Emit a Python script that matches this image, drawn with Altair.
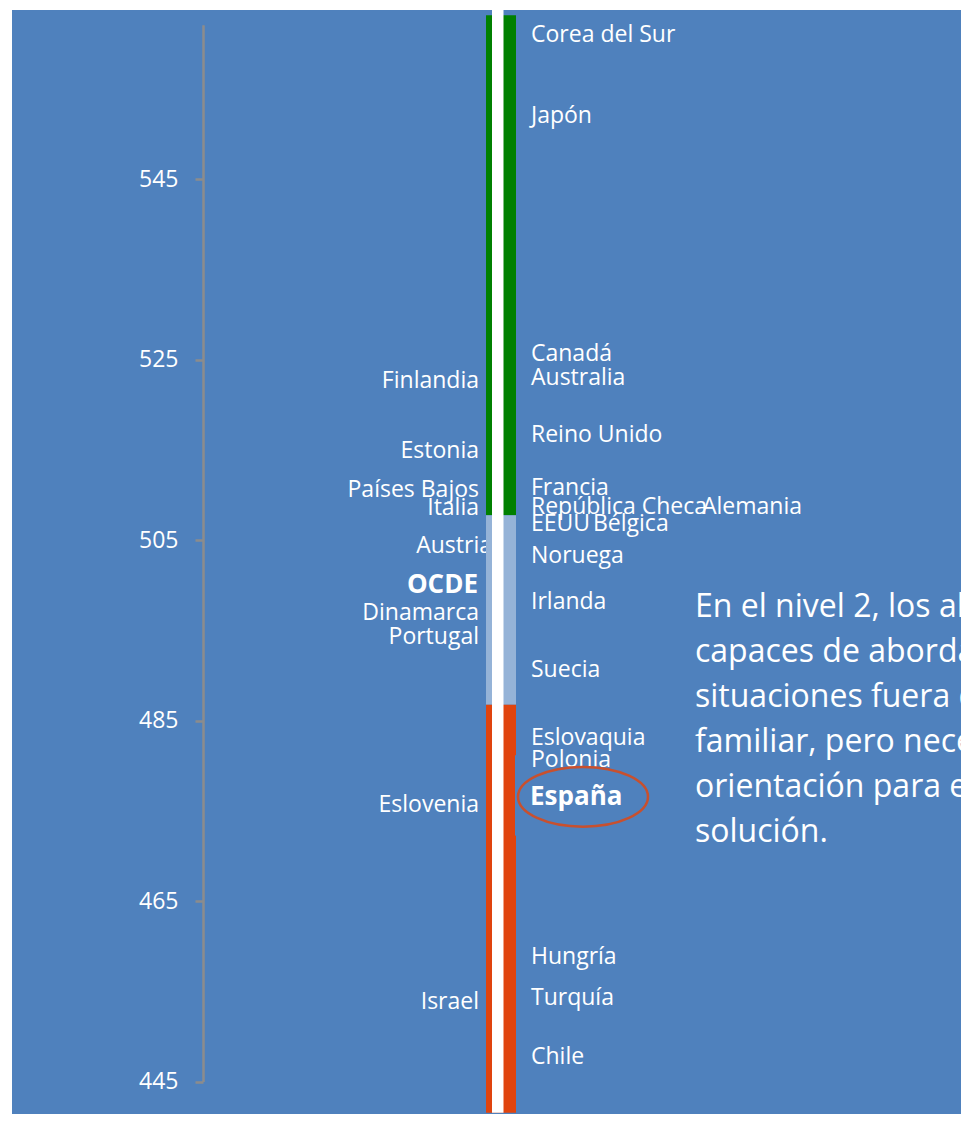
import altair as alt
import pandas as pd

# ---- data ----
right_names = ["Corea del Sur", "Japón", "Canadá", "Australia", "Reino Unido", "Francia",
               "República Checa", "EEUU", "Noruega", "Irlanda", "Suecia", "Eslovaquia",
               "Polonia", "Hungría", "Turquía", "Chile"]
right_scores = [561.0, 552.0, 525.7, 523.0, 516.7, 510.8, 508.7, 506.8, 503.3, 498.2,
                490.7, 483.1, 480.7, 458.9, 454.3, 447.8]

left_names = ["Finlandia", "Estonia", "Países Bajos", "Italia", "Dinamarca", "Portugal",
              "Eslovenia", "Israel"]
left_scores = [522.7, 514.9, 510.6, 508.6, 497.0, 494.3, 475.7, 453.9]

austria_name = ["Austria"]
austria_score = [504.4]

belgica_name = ["Bélgica"]
belgica_score = [506.8]
alemania_name = ["Alemania"]
alemania_score = [508.7]

ocde_name = ["OCDE"]
ocde_score = [500.1]
espana_name = ["España"]
espana_score = [476.6]

band_low = [507.8, 486.8, 441.6]
band_high = [563.2, 507.8, 486.8]
band_color = ["#008000", "#95B3D7", "#E0440E"]

strip_low = [441.6]
strip_high = [563.8]

spain_mark_low = [472.3]
spain_mark_high = [481.2]

axis_low = [445]
axis_high = [562.1]
tick_values = [445, 465, 485, 505, 525, 545]

paragraph = ["En el nivel 2, los alumnos son",
             "capaces de abordar",
             "situaciones  fuera de lo",
             "familiar, pero necesitan",
             "orientación para encontrar la",
             "solución."]

# ---- layout ----
W, H = 953, 1106
FONT = "Open Sans"
BG = "#4F81BD"
yscale = alt.Scale(domain=[441.45, 564.0], nice=False, zero=False)
AX = alt.Axis(
    values=tick_values, offset=-195, domain=False, grid=False, zindex=1,
    tickColor="#8C8C8C", tickSize=8, tickWidth=2.5,
    labelColor="white", labelFont=FONT, labelFontSize=23, labelPadding=17,
    title=None)


def Y(field):
    return alt.Y(field, type="quantitative", scale=yscale, axis=AX)


bands = pd.DataFrame({"lo": band_low, "hi": band_high, "c": band_color})
strip = pd.DataFrame({"lo": strip_low, "hi": strip_high})
spain_mark = pd.DataFrame({"lo": spain_mark_low, "hi": spain_mark_high})
axis_df = pd.DataFrame({"lo": axis_low, "hi": axis_high})
right_df = pd.DataFrame({"name": right_names, "v": right_scores})
left_df = pd.DataFrame({"name": left_names, "v": left_scores})

background = alt.Chart(pd.DataFrame({"a": [0]})).mark_rect(color=BG).encode(
    x=alt.value(4), x2=alt.value(W), y=alt.value(2), y2=alt.value(H)
)

FS = 23
text_kw = dict(baseline="middle", font=FONT, fontSize=FS, color="white")

austria = alt.Chart(pd.DataFrame({"name": austria_name, "v": austria_score})).mark_text(
    align="right", **text_kw
).encode(x=alt.value(484), y=Y("v"), text="name:N")

band_layer = alt.Chart(bands).mark_rect().encode(
    x=alt.value(478), x2=alt.value(508),
    y=Y("lo"), y2="hi:Q",
    color=alt.Color("c:N", scale=None),
)

strip_layer = alt.Chart(strip).mark_rect(color="white").encode(
    x=alt.value(484), x2=alt.value(495.5), y=Y("lo"), y2="hi:Q"
)

spain_layer = alt.Chart(spain_mark).mark_rect(color=BG).encode(
    x=alt.value(507), x2=alt.value(509.5), y=Y("lo"), y2="hi:Q"
)

axis_rule = alt.Chart(axis_df).mark_rule(color="#8C8C8C", strokeWidth=2.5).encode(
    x=alt.value(195.5), y=Y("lo"), y2="hi:Q"
)

right_layer = alt.Chart(right_df).mark_text(align="left", **text_kw).encode(
    x=alt.value(523), y=Y("v"), text="name:N"
)
left_layer = alt.Chart(left_df).mark_text(align="right", **text_kw).encode(
    x=alt.value(471), y=Y("v"), text="name:N"
)
belgica = alt.Chart(pd.DataFrame({"name": belgica_name, "v": belgica_score})).mark_text(
    align="left", **text_kw).encode(x=alt.value(585), y=Y("v"), text="name:N")
alemania = alt.Chart(pd.DataFrame({"name": alemania_name, "v": alemania_score})).mark_text(
    align="left", **text_kw).encode(x=alt.value(694), y=Y("v"), text="name:N")

ocde = alt.Chart(pd.DataFrame({"name": ocde_name, "v": ocde_score})).mark_text(
    align="right", baseline="middle", font=FONT, fontSize=26, fontWeight="bold", color="white"
).encode(x=alt.value(470), y=Y("v"), text="name:N")

espana_df = pd.DataFrame({"name": espana_name, "v": espana_score})
espana = alt.Chart(espana_df).mark_text(
    align="left", baseline="middle", font=FONT, fontSize=26, fontWeight="bold", color="white"
).encode(x=alt.value(522), y=Y("v"), text="name:N")

ellipse_path = "M -1 0 A 1 0.46 0 1 0 1 0 A 1 0.46 0 1 0 -1 0 Z"
ellipse = alt.Chart(espana_df).mark_point(
    shape=ellipse_path, filled=False, color="#C8502E", strokeWidth=2.5, size=16900, opacity=1
).encode(x=alt.value(575), y=Y("v"))

para = alt.Chart(pd.DataFrame({"a": [0]})).mark_text(
    align="left", baseline="alphabetic", font=FONT, fontSize=32, lineHeight=45,
    color="white", clip=True
).encode(x=alt.value(687), y=alt.value(609), text=alt.value(paragraph))

chart = alt.layer(
    background, austria, band_layer, strip_layer, spain_layer, axis_rule,
    right_layer, left_layer, belgica, alemania, ocde, espana, ellipse, para
).properties(
    width=W, height=H, autosize=alt.AutoSizeParams(type="none"), padding=0,
    background="white"
).configure_view(stroke=None)

chart.save("out.html", embed_options={"renderer": "svg", "actions": False})
